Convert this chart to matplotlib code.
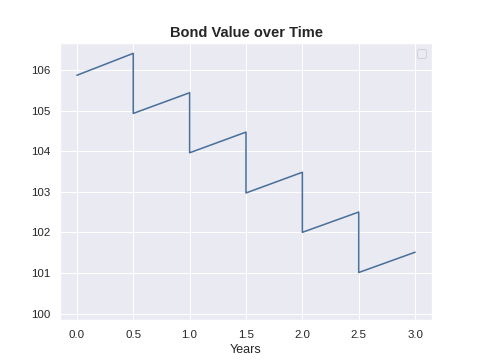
import matplotlib
matplotlib.use("Agg")
import matplotlib.pyplot as plt
import seaborn as sns

# bond value just before / after each coupon date (dirty price sawtooth)
years = [0.0, 0.5, 0.5, 1.0, 1.0, 1.5, 1.5, 2.0, 2.0, 2.5, 2.5, 3.0]
value = [105.87, 106.41, 104.93, 105.44, 103.96, 104.47,
         102.97, 103.48, 102.0, 102.5, 101.01, 101.51]


def main():
    sns.set_theme(style="darkgrid")
    plt.rcParams['font.family'] = ['Liberation Sans', 'DejaVu Sans']
    fig, ax = plt.subplots(figsize=(6.4, 4.8), dpi=75)
    ax.plot(years, value, color="#4a709a", linewidth=1.5)
    ax.set_ylim(99.83, 106.66)
    ax.set_xlabel("Years")
    ax.set_title("Bond Value over Time", fontsize=14, fontweight="bold")
    ax.legend()
    fig.savefig("out.png", dpi=75)


if __name__ == '__main__':
    main()
